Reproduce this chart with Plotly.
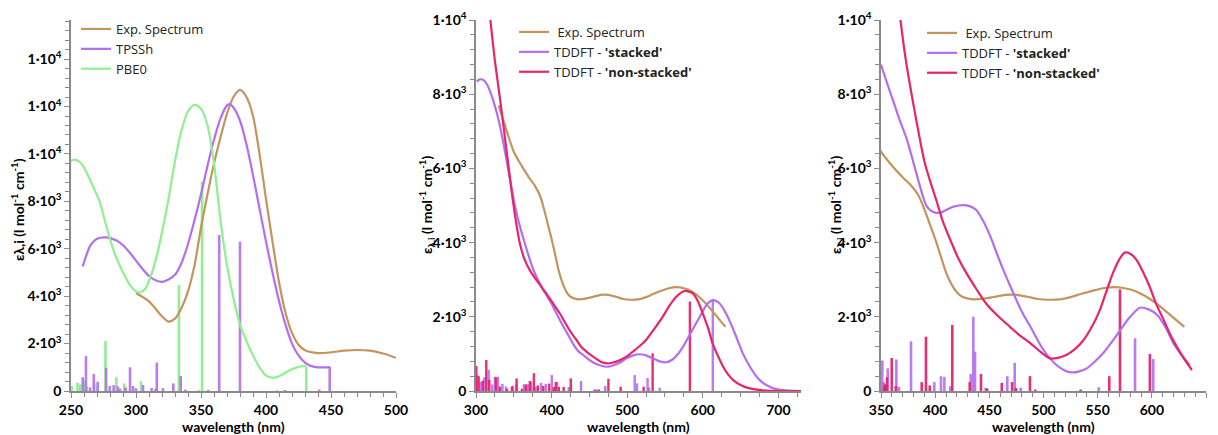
import plotly.graph_objects as go

# ---------------- spectra: panel 1 (TPSSh / PBE0) ----------------
wl_exp_1 = [300, 310, 320, 325, 330, 335, 340, 345, 350, 355, 360, 365, 370, 375, 380,
            385, 390, 395, 400, 405, 410, 415, 420, 425, 430, 440, 450, 460, 470, 480, 490, 500]
eps_exp_1 = [4120, 3780, 3150, 2930, 3050, 3500, 4200, 5300, 6900, 8300, 9600, 10700, 11700, 12400, 12700,
             12400, 11600, 10000, 8100, 6300, 4600, 3300, 2450, 1950, 1720, 1600, 1630, 1700, 1730, 1700, 1580, 1400]

wl_tpssh = [259, 262, 265, 270, 277, 285, 290, 295, 300, 305, 310, 315, 320, 325, 330, 335, 340,
            345, 350, 355, 360, 365, 370, 372, 375, 380, 385, 390, 395, 400, 405, 410, 415, 420,
            425, 430, 435, 440, 445, 449]
eps_tpssh = [5250, 5750, 6150, 6420, 6480, 6350, 6150, 5850, 5500, 5150, 4850, 4670, 4600, 4700, 4900, 5400, 6200,
             7200, 8300, 9500, 10600, 11500, 12050, 12100, 11950, 11400, 10400, 9100, 7700, 6300, 5000, 3800, 2800, 2000,
             1500, 1200, 1050, 1000, 1000, 1010]

wl_pbe0 = [250, 253, 258, 263, 268, 272, 276, 280, 285, 290, 295, 300, 303, 307, 311, 316, 320, 325,
           330, 335, 340, 345, 350, 355, 360, 365, 370, 375, 380, 385, 390, 395, 400, 405, 410, 415,
           420, 425, 430, 431]
eps_pbe0 = [9700, 9760, 9600, 9100, 8500, 8000, 7200, 6400, 5600, 5000, 4500, 4200, 4150, 4300, 4800, 5700, 6700, 8100,
            9700, 11000, 11800, 12070, 11900, 11200, 9600, 7200, 5300, 3900, 2800, 2100, 1500, 1000, 650, 560, 620, 780,
            920, 1020, 1060, 1060]

stick_tpssh_wl = [259, 261.5, 264.6, 267.5, 270.5, 277, 279.8, 282.8, 286, 287.7, 292, 295.4, 297.7, 300,
                  305.4, 312, 315, 316, 320.8, 328.7, 334.4, 338, 355.6, 364, 380, 414.6, 441, 449]
stick_tpssh_eps = [580, 1480, 150, 720, 390, 980, 210, 250, 200, 100, 150, 1000, 210, 120,
                   250, 130, 90, 1200, 120, 320, 630, 60, 50, 6580, 6300, 40, 60, 1020]

stick_pbe0_wl = [250.5, 255, 257, 260, 262, 268, 270.5, 276.5, 284.9, 291, 303.8, 333, 348, 350.8, 408.7, 431]
stick_pbe0_eps = [210, 350, 280, 460, 200, 320, 250, 2110, 580, 320, 410, 4470, 40, 8830, 40, 1030]

# ---------------- experimental spectrum (panels 2 and 3) ----------------
wl_exp = [330, 340, 350, 360, 370, 378, 385, 390, 395, 400, 405, 410, 415, 420, 425, 435, 445, 455,
          465, 475, 485, 495, 505, 515, 525, 535, 545, 555, 565, 575, 585, 595, 605, 615, 625, 630]
eps_exp = [7700, 7050, 6450, 6080, 5760, 5530, 5250, 4900, 4500, 4100, 3650, 3200, 2880, 2660, 2540, 2470, 2490, 2540,
           2590, 2590, 2540, 2480, 2460, 2470, 2530, 2620, 2700, 2770, 2800, 2770, 2690, 2540, 2340, 2100, 1850, 1730]

# ---------------- panel 2 ----------------
wl_stk_2 = [301, 305, 310, 315, 320, 325, 330, 335, 340, 345, 350, 355, 360, 367, 370, 375, 380, 385, 390,
            393, 400, 405, 411, 420, 428, 435, 443, 450, 460, 470, 475, 480, 490, 499, 508, 516, 525, 534,
            543, 552, 560, 567, 574, 585, 596, 605, 613, 620, 627, 633, 643, 653, 664, 675, 686, 697, 710, 730]
eps_stk_2 = [8340, 8400, 8380, 8250, 8000, 7680, 7300, 6820, 6270, 5700, 5150, 4680, 4300, 3820, 3620, 3320, 3080, 2880, 2690,
             2590, 2350, 2150, 1910, 1580, 1285, 1080, 950, 835, 720, 660, 655, 680, 760, 880, 960, 990, 960, 880,
             800, 775, 850, 990, 1195, 1600, 2000, 2320, 2450, 2400, 2230, 2000, 1530, 1015, 600, 300, 140, 50, 15, 0]

wl_nst_2 = [312, 319, 325, 332, 340, 348, 353, 358, 364, 371, 376, 380, 386, 393, 400, 405, 411, 418, 425,
            433, 440, 448, 455, 465, 473, 480, 490, 499, 508, 517, 525, 535, 547, 556, 565, 576, 587, 594,
            600, 607, 613, 620, 627, 633, 640, 650, 662, 680, 700, 730]
eps_nst_2 = [11300, 10000, 8900, 7840, 6550, 5250, 4550, 3980, 3560, 3260, 3100, 2990, 2820, 2630, 2420, 2270, 2090, 1840, 1600,
             1375, 1170, 1030, 925, 790, 745, 760, 830, 925, 1070, 1220, 1375, 1650, 2000, 2300, 2540, 2695, 2630, 2400,
             2090, 1700, 1285, 950, 655, 460, 300, 160, 70, 15, 0, 0]

stick_stk_2_wl = [301.7, 306.2, 311, 316.8, 321.5, 325, 329, 335, 339.6, 349, 353.5, 363.4, 369, 373, 378.8,
                  386, 392.4, 400.3, 407.3, 422.8, 439, 460, 471, 510, 513, 527, 529, 543, 613.3]
stick_stk_2_eps = [430, 250, 370, 570, 180, 385, 385, 190, 120, 145, 200, 180, 180, 245, 110,
                   215, 195, 430, 245, 110, 270, 40, 135, 430, 205, 350, 100, 90, 2450]

stick_nst_2_wl = [300.4, 303.5, 309, 313.6, 317.6, 326.4, 331.7, 341, 347.5, 353.7, 360.7, 366, 371.3, 376.6,
                  381.8, 389, 396.8, 403, 405.6, 409.6, 416, 425.4, 457, 462.4, 475.2, 491.4, 521.8, 533.7, 583]
stick_nst_2_eps = [675, 400, 280, 835, 300, 370, 120, 60, 120, 340, 60, 180, 270, 480,
                   150, 140, 200, 110, 245, 110, 110, 340, 40, 40, 330, 115, 115, 1015, 2410]

# ---------------- panel 3 ----------------
wl_stk_3 = [350, 355, 361, 367, 374, 380, 385, 389, 392, 396, 400, 405, 410, 417, 427, 433, 438, 444, 451, 457,
            463, 469, 475, 481, 488, 494, 500, 506, 512, 519, 526, 533, 540, 547, 555, 563, 571, 580, 589,
            597, 605, 613, 620, 628, 635]
eps_stk_3 = [8800, 8350, 7840, 7320, 6770, 6150, 5620, 5220, 4990, 4860, 4810, 4810, 4880, 4970, 5010, 4970, 4880, 4600,
             4160, 3700, 3260, 2850, 2450, 2080, 1730, 1400, 1105, 880, 700, 560, 500, 530, 610, 780, 1015, 1320, 1645,
             2000, 2245, 2200, 2050, 1700, 1285, 950, 700]

wl_nst_3 = [362, 368, 372, 377, 381, 386, 390, 395, 401, 407, 414, 421, 429, 438, 447, 458, 469, 478, 488,
            497, 506, 514, 521, 529, 537, 545, 552, 558, 564, 570, 575, 580, 586, 592, 598, 604, 611, 617,
            623, 630, 637]
eps_nst_3 = [11500, 10000, 9100, 8200, 7550, 6770, 6200, 5690, 5150, 4580, 4070, 3600, 3170, 2750, 2360, 2020, 1730, 1500, 1285,
             1060, 880, 900, 970, 1130, 1375, 1750, 2180, 2680, 3170, 3550, 3730, 3700, 3530, 3200, 2810, 2350, 1910, 1520,
             1195, 860, 565]

stick_stk_3_wl = [351.2, 352.5, 356.2, 364.2, 366.6, 377.7, 399.2, 405.4, 408.5, 414, 432.8, 435.2, 436.8,
                  446.6, 466.6, 473.4, 479, 551, 584.5, 601.3]
stick_stk_3_eps = [820, 240, 610, 850, 110, 1340, 240, 400, 380, 130, 460, 2000, 1060,
                   90, 400, 760, 90, 100, 1420, 860]

stick_nst_3_wl = [353, 354, 355.5, 359.9, 363.6, 387.6, 391.5, 395, 415.8, 431.9, 442.3, 447.9, 461.5,
                  471, 474.6, 487.5, 492.4, 534.3, 560.7, 570.6, 598.2]
stick_nst_3_eps = [150, 180, 370, 890, 130, 240, 1465, 150, 1780, 240, 460, 70, 220,
                   240, 80, 400, 40, 40, 400, 2740, 1000]

# ---------------- styling ----------------
BROWN = "#c4945e"
PURPLE = "#b36ef0"
GREEN = "#8ef08e"
RED = "#e8246a"
PURPLE_STICK = "rgba(179,110,240,0.9)"
RED_STICK = "rgba(232,36,106,0.95)"
GREEN_STICK = "rgba(142,240,142,1)"
AXIS_GRAY = "#8a8a8a"
FONT = "Lato"
LEGEND_FONT = "Open Sans"

W, H = 1218, 435
fig = go.Figure()


def curve(x, y, color, name, xa, ya, legend, show=True):
    fig.add_trace(go.Scatter(
        x=x, y=y, mode="lines", name=name, legend=legend, showlegend=show,
        line=dict(color=color, width=2.2, shape="spline", smoothing=0.8),
        xaxis=xa, yaxis=ya, hoverinfo="skip"))


def sticks(x, y, color, width, xa, ya):
    fig.add_trace(go.Bar(
        x=x, y=y, width=width, marker=dict(color=color, line=dict(width=0)),
        showlegend=False, xaxis=xa, yaxis=ya, hoverinfo="skip"))


# panel 1
curve(wl_exp_1, eps_exp_1, BROWN, "Exp. Spectrum", "x", "y", "legend")
curve(wl_tpssh, eps_tpssh, PURPLE, "TPSSh", "x", "y", "legend")
curve(wl_pbe0, eps_pbe0, GREEN, "PBE0", "x", "y", "legend")
sticks(stick_pbe0_wl, stick_pbe0_eps, GREEN_STICK, 2.0, "x", "y")
sticks(stick_tpssh_wl, stick_tpssh_eps, PURPLE_STICK, 2.0, "x", "y")

# panel 2
curve(wl_exp, eps_exp, BROWN, " Exp. Spectrum", "x2", "y2", "legend2")
curve(wl_stk_2, eps_stk_2, PURPLE, "TDDFT - <b>'stacked'</b>", "x2", "y2", "legend2")
curve(wl_nst_2, eps_nst_2, RED, "TDDFT - <b>'non-stacked'</b>", "x2", "y2", "legend2")
sticks(stick_stk_2_wl, stick_stk_2_eps, PURPLE_STICK, 3.2, "x2", "y2")
sticks(stick_nst_2_wl, stick_nst_2_eps, RED_STICK, 3.2, "x2", "y2")

# panel 3
curve(wl_exp, eps_exp, BROWN, " Exp. Spectrum", "x3", "y3", "legend3")
curve(wl_stk_3, eps_stk_3, PURPLE, "TDDFT - <b>'stacked'</b>", "x3", "y3", "legend3")
curve(wl_nst_3, eps_nst_3, RED, "TDDFT - <b>'non-stacked'</b>", "x3", "y3", "legend3")
sticks(stick_stk_3_wl, stick_stk_3_eps, PURPLE_STICK, 2.4, "x3", "y3")
sticks(stick_nst_3_wl, stick_nst_3_eps, RED_STICK, 2.4, "x3", "y3")

y_ticks_1 = [0, 2000, 4000, 6000, 8000, 10000, 12000, 14000]
y_text_1 = ["0", "2·10<sup>3</sup>", "4·10<sup>3</sup>", "6·10<sup>3</sup>", "8·10<sup>3</sup>",
            "1·10<sup>4</sup>", "1·10<sup>4</sup>", "1·10<sup>4</sup>"]
y_ticks_23 = [0, 2000, 4000, 6000, 8000, 10000]
y_text_23 = ["0", "2·10<sup>3</sup>", "4·10<sup>3</sup>", "6·10<sup>3</sup>", "8·10<sup>3</sup>", "1·10<sup>4</sup>"]

tickfont = dict(family=FONT, size=14, color="black", weight="bold")
ydom = [1 - 391 / H, 1 - 20 / H]


def xaxis(dom, rng, dtick, minor, anchor):
    return dict(domain=dom, range=rng, anchor=anchor, dtick=dtick, tick0=0, automargin=False,
                showgrid=False, zeroline=False, showline=True, linecolor=AXIS_GRAY, linewidth=1.5,
                ticks="outside", ticklen=5, tickwidth=1.2, tickcolor=AXIS_GRAY, tickfont=tickfont,
                minor=dict(dtick=minor, ticks="outside", ticklen=4, tickwidth=1, tickcolor=AXIS_GRAY, showgrid=False))


def yaxis(rng, vals, text, anchor):
    return dict(domain=ydom, range=rng, anchor=anchor, tickvals=vals, ticktext=text, automargin=False,
                showgrid=False, zeroline=False, showline=True, linecolor=AXIS_GRAY, linewidth=1.5,
                ticks="outside", ticklen=5, tickwidth=1.2, tickcolor=AXIS_GRAY, tickfont=tickfont,
                minor=dict(dtick=400, tick0=0, ticks="outside", ticklen=4, tickwidth=1, tickcolor=AXIS_GRAY, showgrid=False))


legend_style = dict(bgcolor="rgba(0,0,0,0)", font=dict(family=LEGEND_FONT, size=13, color="#222"),
                    xanchor="left", yanchor="top", tracegroupgap=0, itemwidth=30)

fig.update_layout(
    template="none",
    width=W, height=H, autosize=False,
    margin=dict(l=0, r=0, t=0, b=0, autoexpand=False),
    paper_bgcolor="white", plot_bgcolor="white",
    barmode="overlay",
    font=dict(family=FONT),
    xaxis=xaxis([71 / W, 396 / W], [250, 500], 50, 10, "y"),
    yaxis=yaxis([0, 15650], y_ticks_1, y_text_1, "x"),
    xaxis2=xaxis([476 / W, 801 / W], [300, 730], 100, 25, "y2"),
    yaxis2=yaxis([0, 10000], y_ticks_23, y_text_23, "x2"),
    xaxis3=xaxis([881 / W, 1206 / W], [350, 650], 50, 10, "y3"),
    yaxis3=yaxis([0, 10000], y_ticks_23, y_text_23, "x3"),
    legend=dict(x=76 / W, y=1 - 14 / H, **legend_style),
    legend2=dict(x=514 / W, y=1 - 17 / H, **legend_style),
    legend3=dict(x=922 / W, y=1 - 18 / H, **legend_style),
)

title_font = dict(family=FONT, size=14, color="black")
ytitle_1 = "<b>ελ,i (l mol<sup>-1</sup> cm<sup>-1</sup>)</b>"
ytitle_23 = "<b>ε<sub>λ,i</sub> (l mol<sup>-1</sup> cm<sup>-1</sup>)</b>"
xtitle = "<b>wavelength (nm)</b>"

for xc, txt, yc in [(17, ytitle_1, 210), (426, ytitle_23, 205), (835, ytitle_23, 205)]:
    fig.add_annotation(x=xc / W, y=1 - yc / H, xref="paper", yref="paper", text=txt,
                       textangle=-90, showarrow=False, font=title_font, xanchor="center", yanchor="middle")
for xc in [233.5, 638.5, 1043.5]:
    fig.add_annotation(x=xc / W, y=1 - 426 / H, xref="paper", yref="paper", text=xtitle,
                       showarrow=False, font=dict(family=FONT, size=14, color="black"),
                       xanchor="center", yanchor="middle")

fig.write_html("out.html")
